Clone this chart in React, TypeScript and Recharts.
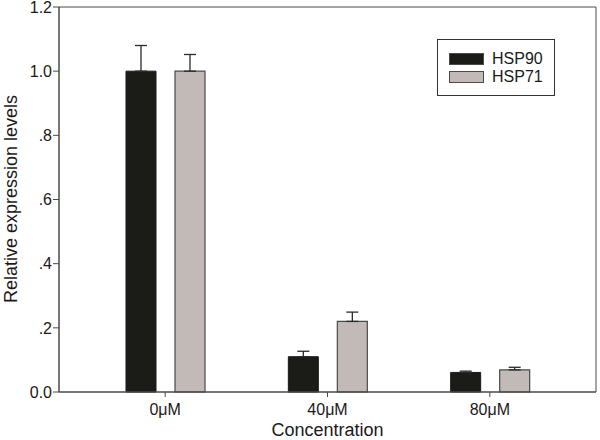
import React from "react";
import { BarChart, Bar, XAxis, YAxis, ErrorBar, CartesianGrid } from "recharts";

const categories = ["0μM", "40μM", "80μM"];
const hsp90 = [1.0, 0.11, 0.061];
const hsp90Err = [0.08, 0.017, 0.004];
const hsp71 = [1.0, 0.22, 0.069];
const hsp71Err = [0.052, 0.029, 0.008];
const yTicks = [0, 0.2, 0.4, 0.6, 0.8, 1.0, 1.2];
const seriesNames = ["HSP90", "HSP71"];

const data = categories.map((c, i) => ({
  name: c,
  hsp90: hsp90[i],
  hsp90Err: [0, hsp90Err[i]],
  hsp71: hsp71[i],
  hsp71Err: [0, hsp71Err[i]],
}));

const BLACK = "#1b1b18";
const GREY = "#c1bab6";
const LINE = "#4a4a4a";
const FONT = "'Liberation Sans', Arial, sans-serif";

const fmtY = (v: number) => {
  if (v === 0) return "0.0";
  if (v >= 1) return v.toFixed(1);
  return v.toFixed(1).replace(/^0/, "");
};

const LegendBox = () => (
  <div
    style={{
      position: "absolute",
      left: 437,
      top: 39,
      width: 116,
      height: 55,
      border: "1px solid #333",
      background: "#fff",
      fontFamily: FONT,
      fontSize: 16,
      color: "#1a1a1a",
    }}
  >
    {seriesNames.map((n, i) => (
      <div key={n} style={{ position: "absolute", left: 11, top: 12 + i * 18, display: "flex", alignItems: "center", height: 13 }}>
        <div
          style={{
            width: 33,
            height: 10,
            background: i === 0 ? BLACK : GREY,
            border: `1px solid ${LINE}`,
          }}
        />
        <span style={{ marginLeft: 8, lineHeight: "13px" }}>{n}</span>
      </div>
    ))}
  </div>
);

const YLabel = () => (
  <text
    x={11}
    y={199}
    transform="rotate(-90 11 199)"
    textAnchor="middle"
    dominantBaseline="central"
    fontFamily={FONT}
    fontSize={18}
    fill="#1a1a1a"
  >
    Relative expression levels
  </text>
);

export default function App() {
  return (
    <div style={{ position: "absolute", left: 0, top: 0, width: 600, height: 440, background: "#fff" }}>
      <BarChart
        width={600}
        height={440}
        data={data}
        margin={{ top: 7, right: 4, bottom: 0, left: 0 }}
        barGap={19}
        barSize={30}
      >
        <CartesianGrid
          xAxisId="bottom"
          yAxisId="left"
          stroke={LINE}
          strokeWidth={1}
          horizontalCoordinatesGenerator={(p: any) => [p.offset.top]}
          verticalCoordinatesGenerator={(p: any) => [p.offset.left + p.offset.width]}
        />
        <XAxis
          dataKey="name"
          xAxisId="bottom"
          height={48}
          padding={{ left: 25, right: 25 }}
          axisLine={{ stroke: LINE, strokeWidth: 1.5 }}
          tickLine={{ stroke: LINE }}
          tickSize={5}
          tickMargin={7}
          tick={{ fontFamily: FONT, fontSize: 16, fill: "#1a1a1a" }}
          label={{
            value: "Concentration",
            position: "insideBottom",
            offset: 4,
            fontFamily: FONT,
            fontSize: 18,
            fill: "#1a1a1a",
          }}
        />
        <YAxis
          yAxisId="left"
          width={59}
          domain={[0, 1.2]}
          ticks={yTicks}
          tickFormatter={fmtY}
          axisLine={{ stroke: LINE, strokeWidth: 1.5 }}
          tickLine={{ stroke: LINE }}
          tickSize={6}
          tickMargin={1}
          tick={{ fontFamily: FONT, fontSize: 16, fill: "#1a1a1a" }}
          interval={0}
        />
        <Bar
          dataKey="hsp90"
          name="HSP90"
          xAxisId="bottom"
          yAxisId="left"
          fill={BLACK}
          stroke={BLACK}
          isAnimationActive={false}
        >
          <ErrorBar dataKey="hsp90Err" width={6} stroke="#2a2a2a" strokeWidth={1.3} direction="y" />
        </Bar>
        <Bar
          dataKey="hsp71"
          name="HSP71"
          xAxisId="bottom"
          yAxisId="left"
          fill={GREY}
          stroke={LINE}
          strokeWidth={1.2}
          isAnimationActive={false}
        >
          <ErrorBar dataKey="hsp71Err" width={6} stroke="#2a2a2a" strokeWidth={1.3} direction="y" />
        </Bar>
        <YLabel />
      </BarChart>
      <LegendBox />
    </div>
  );
}
